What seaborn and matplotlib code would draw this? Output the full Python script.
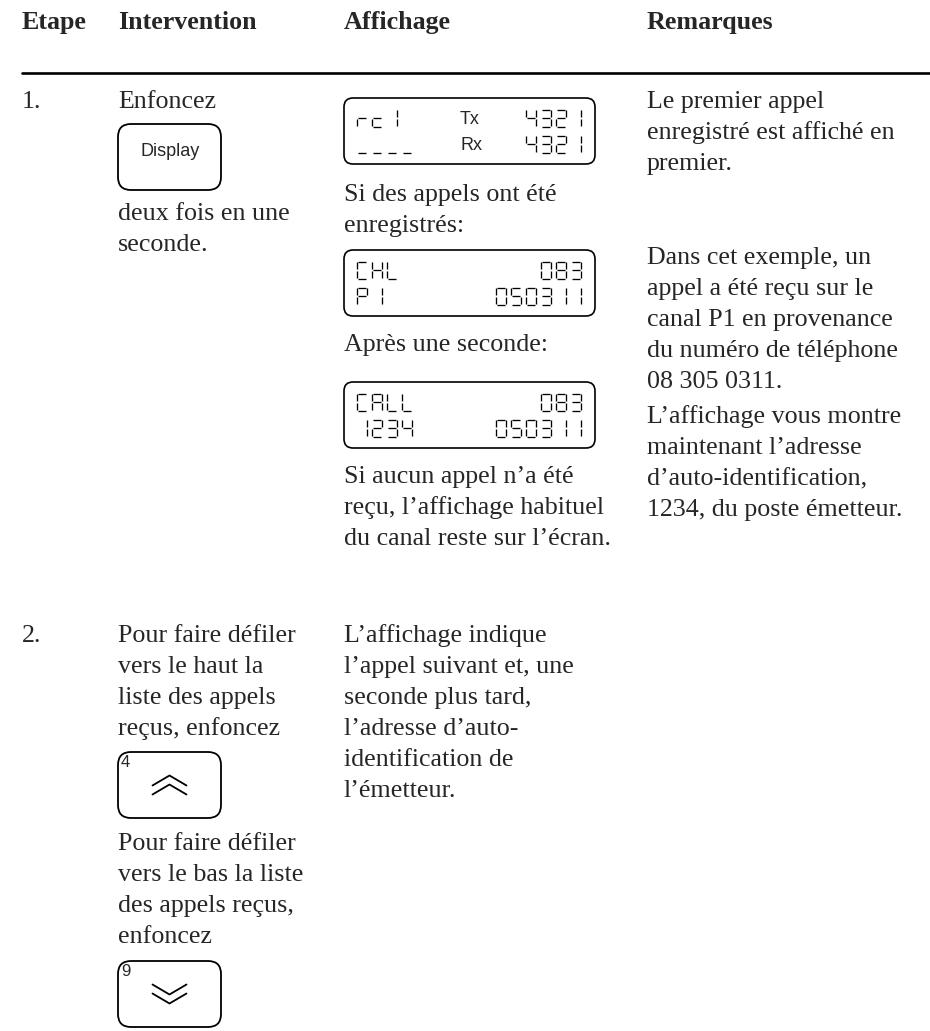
import matplotlib
matplotlib.use("Agg")
import matplotlib.pyplot as plt
from matplotlib.patches import FancyBboxPatch
import seaborn as sns

# page content (text only, layout lives further down)
HEADERS = ["Etape", "Intervention", "Affichage", "Remarques"]
STEPS = ["1.", "2."]

STEP1_INTERVENTION_TOP = ["Enfoncez"]
STEP1_BUTTON = "Display"
STEP1_INTERVENTION_BOTTOM = ["deux fois en une", "seconde."]

LCD_IDLE = [("rcl", "Tx", "4321"), ("____", "Rx", "4321")]
LCD_CHANNEL = [("CHL", "", "083"), ("P1", "", "050311")]
LCD_CALL = [("CALL", "", "083"), ("1234", "", "050311")]

STEP1_DISPLAY_A = ["Si des appels ont été", "enregistrés:"]
STEP1_DISPLAY_B = ["Après une seconde:"]
STEP1_DISPLAY_C = ["Si aucun appel n\u2019a été", "reçu, l\u2019affichage habituel",
                   "du canal reste sur l\u2019écran."]

STEP1_REMARKS_A = ["Le premier appel", "enregistré est affiché en", "premier."]
STEP1_REMARKS_B = ["Dans cet exemple, un", "appel a été reçu sur le",
                   "canal P1 en provenance", "du numéro de téléphone", "08 305 0311."]
STEP1_REMARKS_C = ["L\u2019affichage vous montre", "maintenant l\u2019adresse",
                   "d\u2019auto-identification,", "1234, du poste émetteur."]

STEP2_INTERVENTION_UP = ["Pour faire défiler", "vers le haut la", "liste des appels",
                         "reçus, enfoncez"]
STEP2_INTERVENTION_DOWN = ["Pour faire défiler", "vers le bas la liste",
                           "des appels reçus,", "enfoncez"]
STEP2_KEYS = ["4", "9"]
STEP2_DISPLAY = ["L\u2019affichage indique", "l\u2019appel suivant et, une",
                 "seconde plus tard,", "l\u2019adresse d\u2019auto-",
                 "identification de", "l\u2019émetteur."]

# seven segment layout of the LCD glyphs
SEGMENTS = {
    "0": "abcdef", "1": "bc", "2": "abged", "3": "abgcd", "4": "fgbc",
    "5": "afgcd", "8": "abcdefg", "A": "abcefg", "C": "afed", "H": "bcefg",
    "L": "fed", "P": "abfge", "r": "eg", "c": "ged", "l": "bc", "_": "d",
}

sns.set_theme(style="white")
plt.rcParams["font.family"] = ["Liberation Serif", "DejaVu Serif"]

W, H = 930, 1031
fig = plt.figure(figsize=(W / 100, H / 100), dpi=100)
ax = fig.add_axes([0, 0, 1, 1])
ax.set_xlim(0, W)
ax.set_ylim(H, 0)
ax.axis("off")

FS = 18.7
LINE = 31
COL = [22, 118, 344, 647]


def lines(x, y0, texts, step=LINE):
    for i, t in enumerate(texts):
        ax.text(x, y0 + i * step, t, fontsize=FS, va="baseline", ha="left")


def seg_char(ch, x, y, w=10, h=17, gap=0.6):
    m = y + h / 2
    pts = {
        "a": ((x + gap, y), (x + w - gap, y)),
        "b": ((x + w, y + gap), (x + w, m - gap)),
        "c": ((x + w, m + gap), (x + w, y + h - gap)),
        "d": ((x + gap, y + h), (x + w - gap, y + h)),
        "e": ((x, m + gap), (x, y + h - gap)),
        "f": ((x, y + gap), (x, m - gap)),
        "g": ((x + gap, m), (x + w - gap, m)),
    }
    for s in SEGMENTS.get(ch, ""):
        (x0, y0), (x1, y1) = pts[s]
        ax.plot([x0, x1], [y0, y1], color="black", lw=0.95, solid_capstyle="butt")


def seg_text(s, x, y, pitch=15, right=False):
    if right:
        x = x - (len(s) - 1) * pitch - 10
    for i, ch in enumerate(s):
        seg_char(ch, x + i * pitch, y)


def lcd(rows, top, left=COL[2], width=251, height=66):
    ax.add_patch(FancyBboxPatch((left, top), width, height,
                                boxstyle="round,pad=0,rounding_size=9",
                                fc="none", ec="black", lw=1.2))
    for k, (l_txt, mid, r_txt) in enumerate(rows):
        cy = top + 20 + k * 26
        seg_text(l_txt, left + 13, cy - 8.5)
        seg_text(r_txt, left + width - 14, cy - 8.5, right=True)
        if mid:
            ax.text(left + 116, cy + 1, mid, fontsize=13, family="Liberation Sans",
                    va="center", ha="left")


def chevron(cx, yy, direction):
    # direction 1 points up, -1 points down
    ax.plot([cx - 17, cx, cx + 17],
            [yy + 5 * direction, yy - 5 * direction, yy + 5 * direction],
            color="black", lw=1.3)


def button(top, label=None, key=None, arrow=0, left=118, width=103, height=66):
    ax.add_patch(FancyBboxPatch((left, top), width, height,
                                boxstyle="round,pad=0,rounding_size=13",
                                fc="none", ec="black", lw=1.3))
    cx, cy = left + width / 2, top + height / 2
    if label:
        ax.text(cx + 1, cy - 6, label, fontsize=13, family="Liberation Sans",
                ha="center", va="center")
    if key:
        ax.text(left + 3, top + 3, key, fontsize=12, family="Liberation Sans",
                ha="left", va="top")
    if arrow:
        chevron(cx, cy - 4.5, arrow)
        chevron(cx, cy + 4.5, arrow)


# header
for x, h in zip(COL, HEADERS):
    ax.text(x, 29, h, fontsize=FS, fontweight="bold", va="baseline", ha="left")
ax.plot([COL[0], W], [73, 73], color="black", lw=1.9)

# step 1
ax.text(COL[0], 108, STEPS[0], fontsize=FS, va="baseline")
lines(COL[1], 108, STEP1_INTERVENTION_TOP)
button(124, label=STEP1_BUTTON)
lines(COL[1], 220, STEP1_INTERVENTION_BOTTOM)

lcd(LCD_IDLE, 98)
lines(COL[2], 201, STEP1_DISPLAY_A)
lcd(LCD_CHANNEL, 250)
lines(COL[2], 351, STEP1_DISPLAY_B)
lcd(LCD_CALL, 382)
lines(COL[2], 483, STEP1_DISPLAY_C)

lines(COL[3], 108, STEP1_REMARKS_A)
lines(COL[3], 264, STEP1_REMARKS_B)
lines(COL[3], 423, STEP1_REMARKS_C)

# step 2
ax.text(COL[0], 642, STEPS[1], fontsize=FS, va="baseline")
lines(COL[1], 642, STEP2_INTERVENTION_UP)
button(752, key=STEP2_KEYS[0], arrow=1)
lines(COL[1], 850, STEP2_INTERVENTION_DOWN)
button(961, key=STEP2_KEYS[1], arrow=-1)
lines(COL[2], 642, STEP2_DISPLAY)

fig.savefig("out.png", dpi=100, facecolor="white")
